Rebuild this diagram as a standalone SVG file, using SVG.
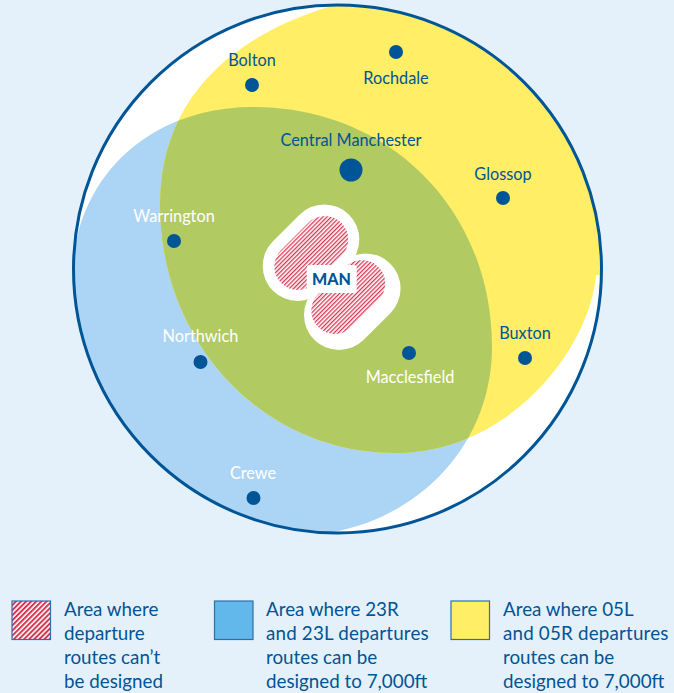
<svg xmlns="http://www.w3.org/2000/svg" width="674" height="693" viewBox="0 0 674 693">
<style>
text{font-family:"Lato","Open Sans","Liberation Sans",sans-serif}
.l{font-size:16.3px;text-anchor:middle}
.b{fill:#005596}
.w{fill:#ffffff}
.d{fill:#005596}
.t{font-size:18.8px;fill:#005596}
.s{letter-spacing:.18px}
.k{stroke:#2f6fa8;stroke-width:1.2}
</style>
<defs>
<pattern id="h" width="3" height="3" patternUnits="userSpaceOnUse" patternTransform="rotate(-45)"><rect width="3" height="3" fill="#fff"/><rect width="3" height="1.3" fill="#d9334f"/></pattern>
<pattern id="h2" width="3.6" height="3.6" patternUnits="userSpaceOnUse" patternTransform="rotate(-45)"><rect width="3.6" height="3.6" fill="#fff"/><rect width="3.6" height="2" fill="#d9334f"/></pattern>
<path id="ys" d="M596 275C590 348 510 453 395 453C262 453 160 342 160 205C160 104 225 40 325 8L360 -4L640 -4L640 275Z"/>
<path id="bs" d="M73 262C82 170 155 107 253 107C390 107 492 210 492 347C492 440 425 515 333 532L320 545L40 545L40 262Z"/>
<clipPath id="c"><circle cx="337.5" cy="269" r="264"/></clipPath>
<clipPath id="y"><use href="#ys"/></clipPath>
</defs>
<rect width="674" height="693" fill="#e4f1fb"/>
<g id="regions">
<circle cx="337.5" cy="269" r="264" fill="#fff"/>
<g clip-path="url(#c)">
<use id="area-23" href="#bs" fill="#acd5f5"/>
<use id="area-05" href="#ys" fill="#ffee66"/>
<g clip-path="url(#y)"><use id="area-overlap" href="#bs" fill="#b1ca62"/></g>
</g>
<circle cx="337.5" cy="269" r="264" fill="none" stroke="#005596" stroke-width="3"/>
</g>
<g id="man">
<path d="M324.3 239.4L297.7 266M365.6 288.4L339 315" stroke="#fff" stroke-width="70" stroke-linecap="round" fill="none"/>
<path d="M324.8 239.5L297.8 266.5M361.8 283.5L334.8 310.5" stroke="url(#h)" stroke-width="47" stroke-linecap="round" fill="none"/>
<rect x="306.700" y="265" width="50" height="28" rx="3" fill="#fff"/>
<text x="331.500" y="285" font-size="16" font-weight="900" text-anchor="middle" class="b">MAN</text>
</g>
<g id="bolton"><circle class="d" cx="252" cy="85" r="7"/><text class="l b" x="252" y="66">Bolton</text></g>
<g id="rochdale"><circle class="d" cx="396" cy="52" r="7"/><text class="l b" x="396" y="84">Rochdale</text></g>
<g id="central-manchester"><circle class="d" cx="351" cy="170" r="11.500"/><text class="l b" x="351" y="146">Central Manchester</text></g>
<g id="glossop"><circle class="d" cx="503" cy="198" r="7"/><text class="l b" x="503" y="180">Glossop</text></g>
<g id="warrington"><circle class="d" cx="174" cy="241" r="7"/><text class="l w" x="174" y="222">Warrington</text></g>
<g id="buxton"><circle class="d" cx="525" cy="358" r="7"/><text class="l b" x="525" y="339">Buxton</text></g>
<g id="northwich"><circle class="d" cx="200.500" cy="362" r="7"/><text class="l w" x="200.500" y="342">Northwich</text></g>
<g id="macclesfield"><circle class="d" cx="409" cy="353" r="7"/><text class="l w" x="410" y="383">Macclesfield</text></g>
<g id="crewe"><circle class="d" cx="253.500" cy="498" r="7"/><text class="l w" x="253" y="479">Crewe</text></g>
<g id="legend-hatched"><rect class="k" x="12" y="601" width="38.500" height="38.500" fill="url(#h2)"/>
<text class="t"><tspan x="64" y="616">Area where</tspan><tspan x="64" y="640">departure</tspan><tspan x="64" y="664">routes can’t</tspan><tspan x="64" y="688">be designed</tspan></text></g>
<g id="legend-23"><rect class="k" x="214.500" y="601" width="38.500" height="38.500" fill="#62b8ea"/>
<text class="t"><tspan x="266" y="616">Area where 23R</tspan><tspan class="s" x="266" y="640">and 23L departures</tspan><tspan x="266" y="664">routes can be</tspan><tspan x="266" y="688">designed to 7,000ft</tspan></text></g>
<g id="legend-05"><rect class="k" x="451" y="601" width="38.500" height="38.500" fill="#ffee66"/>
<text class="t"><tspan x="503" y="616">Area where 05L</tspan><tspan class="s" x="503" y="640">and 05R departures</tspan><tspan x="503" y="664">routes can be</tspan><tspan x="503" y="688">designed to 7,000ft</tspan></text></g>
</svg>
